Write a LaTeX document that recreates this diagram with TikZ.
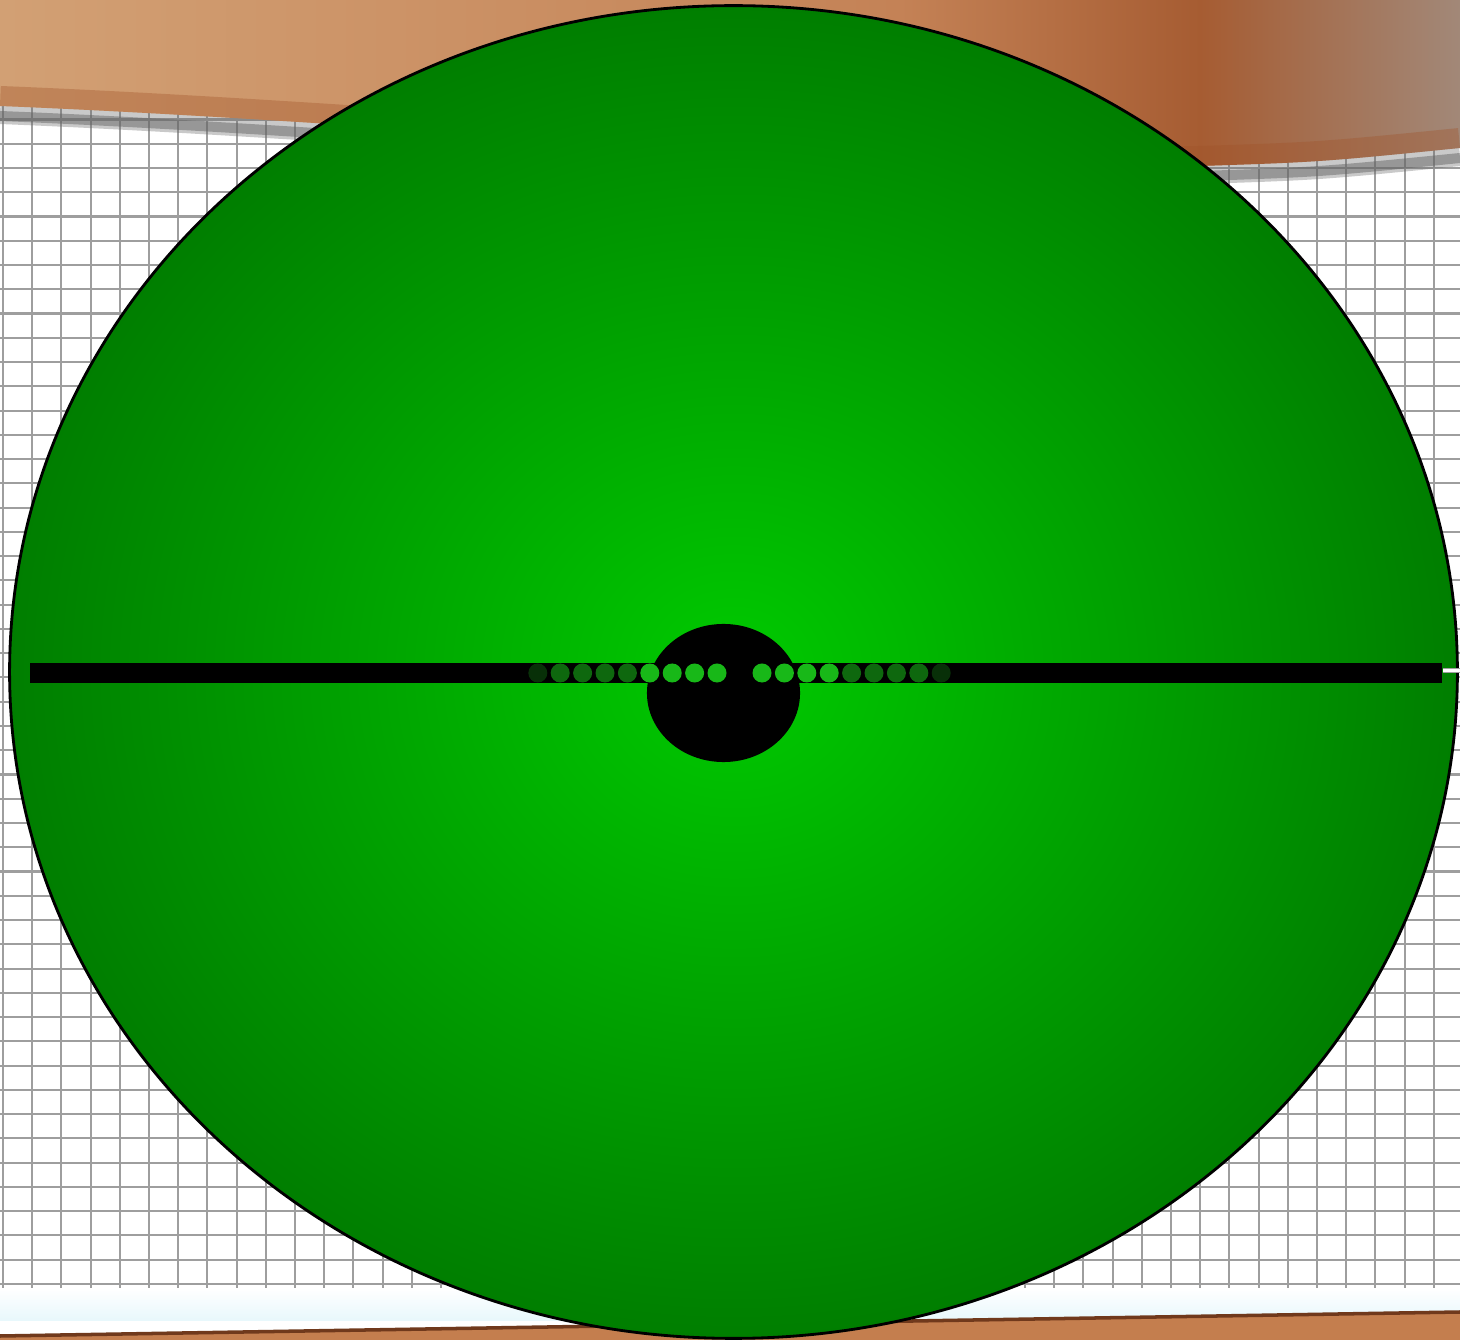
\documentclass[tikz,border=0pt]{standalone}
\usetikzlibrary{shapes.geometric}

\definecolor{woodtan}{RGB}{210,160,116}
\definecolor{woodmid}{RGB}{196,130,86}
\definecolor{woodrust}{RGB}{166,92,50}
\definecolor{woodgrey}{RGB}{162,136,120}
\definecolor{woodedge}{RGB}{160,82,40}
\definecolor{woodlow}{RGB}{196,126,78}
\definecolor{paperblue}{RGB}{232,248,252}
\definecolor{diskcentre}{RGB}{0,202,0}
\definecolor{diskrim}{RGB}{0,126,0}
\definecolor{beadlit}{RGB}{24,184,24}
\definecolor{beaddim}{RGB}{14,104,14}
\definecolor{beadfaint}{RGB}{8,48,8}

\begin{document}
\begin{tikzpicture}[x=0.01cm, y=-0.01cm,
    gridline/.style={draw=black!38, line width=0.6pt},
    disk/.style={ellipse, draw=black, line width=0.8pt, inner sep=0pt,
        inner color=diskcentre, outer color=diskrim,
        minimum width=14.47cm, minimum height=13.32cm},
    bar/.style={rectangle, fill=black, inner sep=0pt,
        minimum width=14.12cm, minimum height=0.2cm},
    hub/.style={ellipse, fill=black, inner sep=0pt,
        minimum width=1.53cm, minimum height=1.38cm},
    bead/.style={circle, inner sep=0pt, minimum size=0.19cm},
    shaftedge/.style={draw=gray!75, line width=1.6pt},
    shaftcore/.style={draw=white, line width=0.8pt}
]
\useasboundingbox (0,0) rectangle (1460,1340);
\fill[white] (0,0) rectangle (1460,1340);

% grid paper
\foreach \i in {0,...,49}
  \draw[gridline] (3+29.2*\i,90) -- (3+29.2*\i,1290);
\foreach \j in {0,...,49}
  \draw[gridline] (0,95.2+24.26*\j) -- (1460,95.2+24.26*\j);
\shade[top color=white, bottom color=paperblue] (0,1288) rectangle (1460,1320);

% table edges
\draw[gray!80!black, line width=0.2cm, opacity=0.35]
  (0,114) .. controls (400,130) and (900,180) .. (1200,174) .. controls (1320,170) .. (1460,156);
\draw[gray!80!black, line width=0.1cm, opacity=0.5]
  (0,116) .. controls (400,132) and (900,182) .. (1200,176) .. controls (1320,172) .. (1460,158);
\begin{scope}
  \clip (0,0) -- (1460,0) -- (1460,148) .. controls (1320,162) .. (1200,166)
    .. controls (900,172) and (400,122) .. (0,106) -- cycle;
  \shade[left color=woodtan, right color=woodmid] (0,0) rectangle (901,200);
  \shade[left color=woodmid, right color=woodrust] (900,0) rectangle (1201,200);
  \shade[left color=woodrust, right color=woodgrey] (1200,0) rectangle (1460,200);
  \draw[woodedge, line width=0.4cm, opacity=0.35]
    (0,106) .. controls (400,122) and (900,172) .. (1200,166) .. controls (1320,162) .. (1460,148);
\end{scope}
\fill[woodlow] (0,1336) -- (1460,1312) -- (1460,1340) -- (0,1340) -- cycle;
\draw[woodedge!70!black, line width=1pt] (0,1336) -- (1460,1312);

% wheel
\node[disk] (disk) at (733.5,672) {};
\node[bar] (bar) at (736,673) {};
\node[hub] (hub) at (723.5,693) {};
\coordinate (shaftend) at (1460,670.5);
\draw[shaftedge] (bar.east |- shaftend) -- (shaftend);
\draw[shaftcore] (bar.east |- shaftend) -- (shaftend);

\foreach \k/\beadcol in {0/beadlit,1/beadlit,2/beadlit,3/beadlit,
    4/beaddim,5/beaddim,6/beaddim,7/beaddim,8/beadfaint} {
  \node[bead, fill=\beadcol] (l\k) at (717-22.4*\k,673) {};
  \node[bead, fill=\beadcol] (r\k) at (762+22.4*\k,673) {};
}

\end{tikzpicture}
\end{document}
